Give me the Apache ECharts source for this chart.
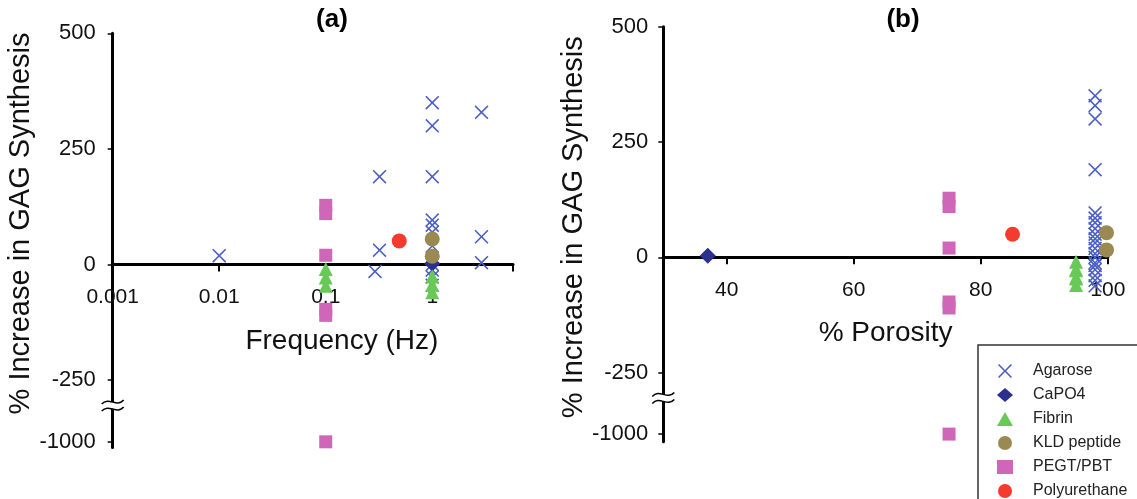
<!DOCTYPE html>
<html><head><meta charset="utf-8">
<script src="https://cdn.jsdelivr.net/npm/echarts@6/dist/echarts.min.js"></script>
<style>html,body{margin:0;padding:0;background:#fff}#c{width:1137px;height:499px}</style>
</head><body><div id="c"></div><script>
// ---------- data ----------
const seriesNames = ['Agarose', 'CaPO4', 'Fibrin', 'KLD peptide', 'PEGT/PBT', 'Polyurethane'];
const yTickValues = [500, 250, 0, -250, -1000];
const xTickFreq = [0.001, 0.01, 0.1, 1];
const xTickPorosity = [40, 60, 80, 100];

// Panel (a): frequency (Hz) vs % increase in GAG synthesis
const agaroseFreqHz  = [0.01, 0.32, 0.32, 0.29, 1, 1, 1, 1, 1, 1, 1, 1, 1, 1, 1, 2.9, 2.9, 2.9];
const agaroseFreqGag = [19, 190, 31, -15, 350, 300, 190, 96, 85, 70, 40, 0, -12, -27, -45, 329, 60, 4];
const capo4FreqHz  = [1];
const capo4FreqGag = [2];
const fibrinFreqHz  = [0.1, 0.1, 0.1, 1, 1, 1];
const fibrinFreqGag = [-10, -28, -46, -26, -44, -60];
const kldFreqHz  = [1, 1];
const kldFreqGag = [55, 18];
const pegtFreqHz  = [0.1, 0.1, 0.1, 0.1, 0.1, 0.1];
const pegtFreqGag = [128, 110, 20, -97, -110, -1000];
const puFreqHz  = [0.49];
const puFreqGag = [51];

// Panel (b): % porosity vs % increase in GAG synthesis
const agarosePorosity = [98, 98, 98, 98, 98, 98, 98, 98, 98, 98, 98, 98, 98, 98, 98, 98, 98, 98, 98, 98];
const agarosePoroGag  = [350, 329, 300, 190, 96, 85, 75, 62, 50, 40, 31, 19, 8, 0, -12, -18, -27, -40, -50, -62];
const capo4Porosity = [37];
const capo4PoroGag  = [3];
const fibrinPorosity = [95, 95, 95, 95, 95, 95];
const fibrinPoroGag  = [-10, -28, -46, -26, -44, -60];
const kldPorosity = [99.8, 99.8];
const kldPoroGag  = [53, 16];
const pegtPorosity = [75, 75, 75, 75, 75, 75];
const pegtPoroGag  = [128, 110, 20, -97, -110, -1000];
const puPorosity = [85];
const puPoroGag  = [50];

// ---------- helpers ----------
// broken y axis: values below -250 are compressed
const BREAK_AT = -250, BREAK_RATIO = 133.5 / 750;
function brk(v) { return v >= BREAK_AT ? v : BREAK_AT + (v - BREAK_AT) * BREAK_RATIO; }
const yTickDisplay = yTickValues.map(brk);
function yLabel(v) {
  for (let i = 0; i < yTickDisplay.length; i++) if (Math.abs(yTickDisplay[i] - v) < 1e-6) return String(yTickValues[i]);
  return '';
}
function pts(xs, ys) { return xs.map((x, i) => [x, brk(ys[i])]); }

const FONT = "'Liberation Sans', Arial, Helvetica, sans-serif";
const C_AGAROSE = '#4a5ec4', C_CAPO4 = '#2b2f8f', C_FIBRIN = '#68c957',
      C_KLD = '#9a8a52', C_PEGT = '#cf66b8', C_PU = '#f53a2e';
const CROSS = 'path://M0,0.08L0.08,0L0.5,0.42L0.92,0L1,0.08L0.58,0.5L1,0.92L0.92,1L0.5,0.58L0.08,1L0,0.92L0.42,0.5Z';

const styles = {
  'Agarose':      { symbol: CROSS, symbolSize: 14, color: C_AGAROSE },
  'CaPO4':        { symbol: 'diamond', symbolSize: 16, color: C_CAPO4 },
  'Fibrin':       { symbol: 'triangle', symbolSize: 14, color: C_FIBRIN },
  'KLD peptide':  { symbol: 'circle', symbolSize: 15, color: C_KLD },
  'PEGT/PBT':     { symbol: 'rect', symbolSize: 13, color: C_PEGT },
  'Polyurethane': { symbol: 'circle', symbolSize: 15, color: C_PU }
};
const panelA = {
  'Agarose': pts(agaroseFreqHz, agaroseFreqGag),
  'CaPO4': pts(capo4FreqHz, capo4FreqGag),
  'Fibrin': pts(fibrinFreqHz, fibrinFreqGag),
  'KLD peptide': pts(kldFreqHz, kldFreqGag),
  'PEGT/PBT': pts(pegtFreqHz, pegtFreqGag),
  'Polyurethane': pts(puFreqHz, puFreqGag)
};
const panelB = {
  'Agarose': pts(agarosePorosity, agarosePoroGag),
  'CaPO4': pts(capo4Porosity, capo4PoroGag),
  'Fibrin': pts(fibrinPorosity, fibrinPoroGag),
  'KLD peptide': pts(kldPorosity, kldPoroGag),
  'PEGT/PBT': pts(pegtPorosity, pegtPoroGag),
  'Polyurethane': pts(puPorosity, puPoroGag)
};

const series = [];
[panelA, panelB].forEach((panel, gi) => {
  seriesNames.forEach(name => {
    const s = styles[name];
    series.push({
      type: 'scatter', name, xAxisIndex: gi, yAxisIndex: gi,
      symbol: s.symbol, symbolSize: s.symbolSize,
      itemStyle: { color: s.color, opacity: 1 },
      emphasis: { disabled: true },
      data: panel[name]
    });
  });
});

const grids = [
  { left: 112.7, top: 33.3, width: 400.3, height: 414.3, outerBoundsMode: 'none', containLabel: false },
  { left: 663.3, top: 26.7, width: 444.5, height: 415, outerBoundsMode: 'none', containLabel: false }
];
const yMin = [-396, -400], yMax = 500;
// the x axis sits on y = 0: shift it up from the grid bottom by the scale distance of 0 from min
const zeroOffset = gi => -((0 - yMin[gi]) / (yMax - yMin[gi])) * grids[gi].height;

const axisLineStyle = { color: '#000', width: 3 };
function yAxis(gi, nameGap, pad, margin) {
  return {
    type: 'value', gridIndex: gi, min: yMin[gi], max: yMax,
    axisLine: { show: true, onZero: false, lineStyle: axisLineStyle },
    axisTick: { show: true, length: 5, lineStyle: { color: '#000', width: 1.5 }, customValues: yTickDisplay },
    axisLabel: { customValues: yTickDisplay, formatter: yLabel, margin, fontSize: 22, color: '#111', fontFamily: FONT },
    splitLine: { show: false },
    name: '% Increase in GAG Synthesis', nameLocation: 'middle', nameGap,
    nameTextStyle: { fontSize: 29, color: '#111', fontFamily: FONT, padding: [0, 0, 0, pad] }
  };
}

const option = {
  animation: false,
  backgroundColor: '#fff',
  textStyle: { fontFamily: FONT },
  grid: grids,
  xAxis: [
    {
      type: 'log', logBase: 10, gridIndex: 0, min: 0.001, max: 5.73, position: 'bottom', offset: zeroOffset(0),
      axisLine: { onZero: false, lineStyle: axisLineStyle },
      axisTick: { show: true, length: 7, lineStyle: { color: '#000', width: 2 } },
      axisLabel: { margin: 22, fontSize: 21, color: '#111', fontFamily: FONT,
        formatter: v => { const t = xTickFreq.find(f => Math.abs(Math.log10(f) - Math.log10(v)) < 1e-6); return t === undefined ? '' : String(t); } },
      splitLine: { show: false }, minorTick: { show: false },
      name: 'Frequency (Hz)', nameLocation: 'middle', nameGap: 63,
      nameTextStyle: { fontSize: 28, color: '#111', fontFamily: FONT, padding: [0, 0, 0, 58] }
    },
    {
      type: 'value', gridIndex: 1, min: 30, max: 100, position: 'bottom', offset: zeroOffset(1),
      axisLine: { onZero: false, lineStyle: axisLineStyle },
      axisTick: { show: true, length: 7, lineStyle: { color: '#000', width: 2 }, customValues: xTickPorosity },
      axisLabel: { customValues: xTickPorosity, margin: 22, fontSize: 21, color: '#111', fontFamily: FONT },
      splitLine: { show: false },
      name: '% Porosity', nameLocation: 'middle', nameGap: 62,
      nameTextStyle: { fontSize: 28, color: '#111', fontFamily: FONT }
    }
  ],
  yAxis: [ yAxis(0, 75, 34, 17), yAxis(1, 71, 14, 15) ],
  legend: {
    data: seriesNames, orient: 'vertical', left: 997, top: 363,
    padding: 0, itemWidth: 16, itemHeight: 14, itemGap: 8,
    textStyle: { fontSize: 16, color: '#222', fontFamily: FONT, padding: [0, 0, 0, 15] },
    selectedMode: false
  },
  series
};

const chart = echarts.init(document.getElementById('c'), null, { renderer: 'canvas' });
chart.setOption(option);

// panel titles, legend frame and axis-break marks
function breakMark(gi) {
  const x = chart.convertToPixel({ xAxisIndex: gi }, gi === 0 ? 0.001 : 30);
  const y = chart.convertToPixel({ yAxisIndex: gi }, -305);
  const curve = dy => ({
    type: 'bezierCurve', z: 100,
    shape: { x1: x - 11, y1: y + dy + 2, cpx1: x - 4, cpy1: y + dy - 6, cpx2: x + 4, cpy2: y + dy + 6, x2: x + 11, y2: y + dy - 2 },
    style: { stroke: '#000', lineWidth: 1.5, fill: null }
  });
  return [
    { type: 'rect', z: 99, shape: { x: x - 3, y: y - 3.5, width: 6, height: 7 }, style: { fill: '#fff' } },
    curve(-3.5), curve(3.5)
  ];
}
chart.setOption({
  graphic: [
    { type: 'text', x: 332, y: 20, style: { text: '(a)', font: "bold 26px " + FONT, fill: '#000', align: 'center', verticalAlign: 'middle' } },
    { type: 'text', x: 903, y: 20, style: { text: '(b)', font: "bold 26px " + FONT, fill: '#000', align: 'center', verticalAlign: 'middle' } },
    { type: 'rect', z: -1, shape: { x: 978, y: 345, width: 200, height: 200 }, style: { fill: '#fff', stroke: '#333', lineWidth: 1.5 } },
    ...breakMark(0), ...breakMark(1)
  ]
});
</script></body></html>
